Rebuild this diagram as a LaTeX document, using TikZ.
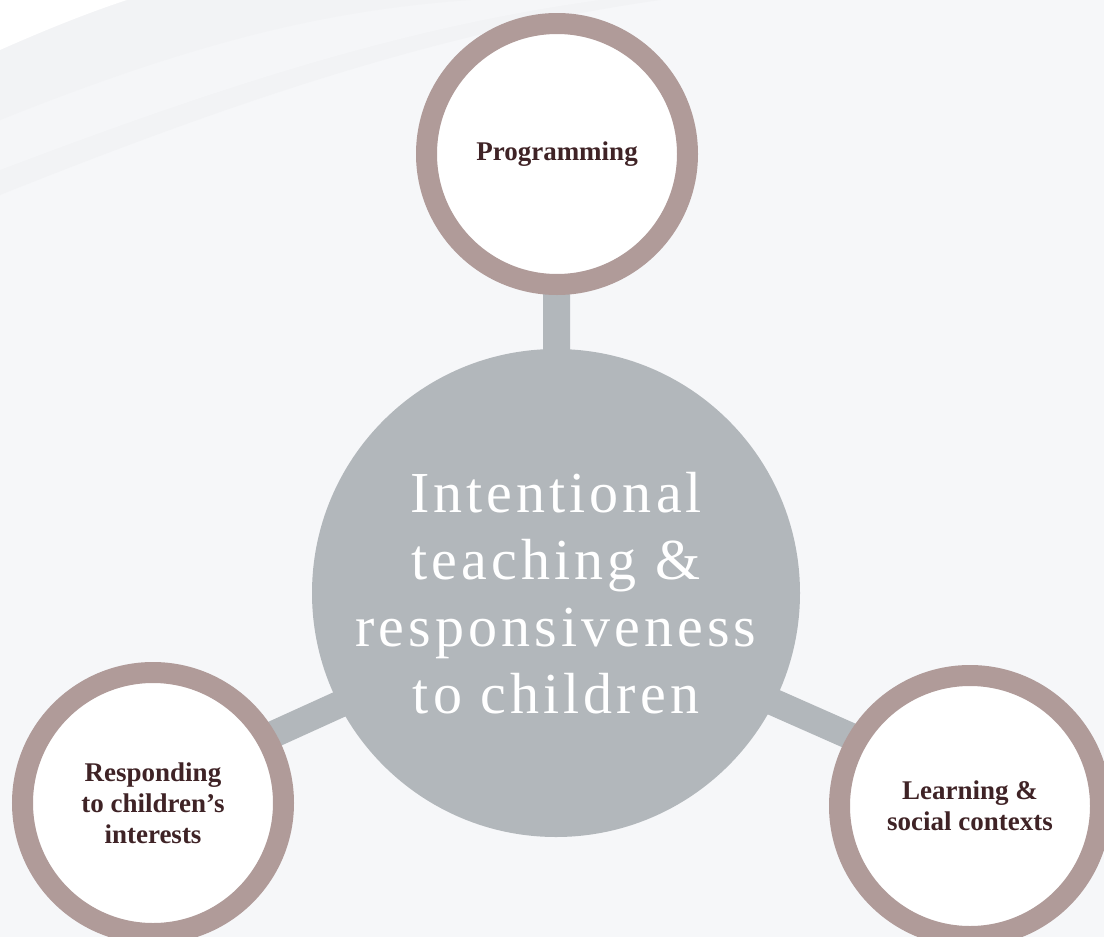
\documentclass[tikz,border=0pt]{standalone}
\usepackage{fontspec}
\setmainfont{Liberation Serif}
\newfontfamily\hubfont[LetterSpace=7]{Liberation Serif}
\usetikzlibrary{calc}
\definecolor{bgcol}{HTML}{F6F7F9}
\definecolor{bandA}{HTML}{F2F3F5}
\definecolor{bandB}{HTML}{F5F6F8}
\definecolor{ringcol}{HTML}{B09B99}
\definecolor{hubcol}{HTML}{B2B7BB}
\definecolor{labcol}{HTML}{3F2326}
\pgfdeclarelayer{bg}
\pgfdeclarelayer{conn}
\pgfsetlayers{bg,conn,main}
\tikzset{
  outer/.style={circle, fill=white, draw=ringcol, line width=21pt, minimum size=261pt, inner sep=0pt,
    align=center, text=labcol, font=\fontsize{27}{31}\selectfont\bfseries, overlay},
  hub/.style={circle, fill=hubcol, minimum size=488pt, inner sep=0pt, align=center, text=white,
    font=\hubfont\fontsize{58}{67}\selectfont},
  bar/.style={draw=hubcol, line width=27pt, overlay}
}
\begin{document}
\begin{tikzpicture}[x=1pt,y=-1pt]
\useasboundingbox (0,0) rectangle (1104,937);
\clip (0,0) rectangle (1104,937);
\begin{pgfonlayer}{bg}
  \fill[bgcol] (0,0) rectangle (1104,937);
  \fill[bandA] (0,0) -- (0,195) .. controls (250,95) and (450,30) .. (660,0) -- cycle;
  \fill[bandB] (0,0) -- (0,170) .. controls (250,75) and (420,25) .. (600,0) -- cycle;
  \fill[bandA] (0,0) -- (0,120) .. controls (200,40) and (330,10) .. (470,0) -- cycle;
  \fill[white] (0,0) -- (0,50) .. controls (45,30) and (90,12) .. (127,0) -- cycle;
\end{pgfonlayer}

\node[hub] (C) at (556,593) {Intentional\\teaching \&\\responsiveness\\to children};
\node[outer] (T) at (557,154) {Programming};
\node[outer] (L) at (153,803) {Responding\\to children’s\\interests};
\node[outer] (R) at (970,806) {Learning \&\\social contexts};

\coordinate (hubpt) at (556,606);
\coordinate (lpt) at (153,789);
\coordinate (rpt) at (970,789);

\begin{pgfonlayer}{conn}
  \draw[bar] (C.center) -- (T.center);
  \draw[bar] (hubpt) -- (lpt);
  \draw[bar] (hubpt) -- (rpt);
\end{pgfonlayer}
\end{tikzpicture}
\end{document}
